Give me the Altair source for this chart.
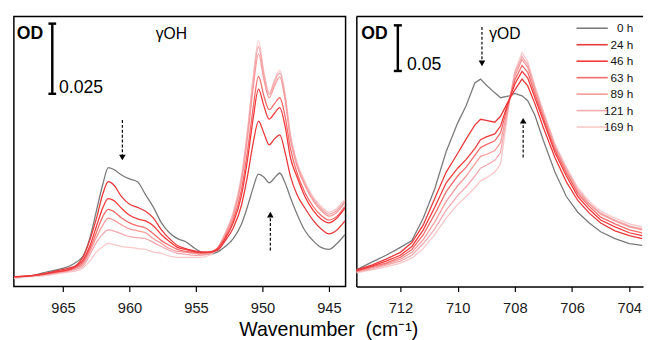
import altair as alt
import pandas as pd

FONT = "Liberation Sans"

series = ["0 h", "24 h", "46 h", "63 h", "89 h", "121 h", "169 h"]
colors = ["#7a7a7a", "#e8383a", "#f5393b", "#f56b6b", "#f79a9a", "#f2a9b0", "#fac8c8"]

# ---------- gamma OH region (mOD, arbitrary baseline) ----------
wn_oh = [968.7, 967.5, 966.5, 965.5, 964.5, 964.0, 963.5, 963.0, 962.5, 962.0,
         961.6, 961.2, 960.6, 960.0, 959.4, 958.8, 958.2, 957.6, 957.0, 956.4,
         955.8, 955.2, 954.6, 954.0, 953.4, 952.8, 952.2, 951.6, 951.1, 950.7,
         950.3, 949.9, 949.5, 949.1, 948.7, 948.3, 947.9, 947.4, 946.8, 946.2,
         945.6, 945.0, 944.4, 943.8]
oh_0h = [3.5, 3.8, 4.9, 5.9, 7.3, 8.7, 10.8, 17.0, 26.7, 36.5,
         42.2, 41.6, 39.6, 38.2, 37.2, 32.6, 28.1, 22.6, 19.1, 17.0,
         16.0, 13.9, 12.2, 11.5, 12.2, 14.2, 17.0, 21.9, 28.8, 35.1,
         39.9, 38.9, 36.8, 38.5, 40.3, 36.8, 31.6, 25.7, 19.8, 16.3,
         13.9, 13.2, 15.3, 18.4]
oh_24h = [3.5, 3.8, 4.5, 5.6, 6.6, 7.6, 10.4, 16.3, 24.0, 33.0,
          37.2, 36.1, 31.9, 29.2, 28.1, 26.7, 24.3, 20.1, 17.0, 14.6,
          13.5, 12.8, 12.2, 12.2, 12.8, 16.3, 20.8, 28.5, 39.9, 51.0,
          58.7, 54.5, 50.3, 52.4, 53.8, 47.6, 39.2, 32.6, 27.8, 23.6,
          20.5, 18.7, 20.1, 23.3]
oh_46h = [3.5, 3.8, 4.5, 5.2, 6.2, 7.3, 9.4, 14.2, 21.2, 28.1,
          31.2, 30.6, 27.8, 25.3, 24.0, 23.3, 21.5, 18.4, 16.0, 13.9,
          13.2, 12.5, 12.2, 12.2, 13.2, 17.0, 22.6, 31.9, 45.8, 59.7,
          70.1, 64.2, 59.4, 61.5, 63.5, 56.9, 45.8, 38.9, 31.9, 27.1,
          24.0, 22.6, 24.3, 27.8]
oh_63h = [3.5, 3.8, 4.2, 5.2, 5.9, 6.9, 8.7, 13.2, 19.1, 25.0,
          27.4, 26.7, 24.3, 22.6, 21.5, 20.8, 18.7, 16.3, 14.6, 13.2,
          12.5, 12.2, 11.8, 12.2, 13.5, 17.7, 23.6, 34.0, 49.0, 63.5,
          74.6, 67.7, 62.8, 64.9, 67.0, 60.4, 49.0, 40.3, 33.3, 28.5,
          25.3, 23.6, 25.0, 28.5]
oh_89h = [3.5, 3.8, 4.2, 4.9, 5.9, 6.6, 8.0, 12.2, 17.4, 21.9,
          24.3, 23.6, 21.9, 20.5, 19.8, 19.1, 17.0, 15.3, 13.5, 12.5,
          12.2, 11.8, 11.5, 11.8, 13.5, 18.4, 25.0, 36.8, 53.8, 70.5,
          82.6, 73.6, 67.0, 71.2, 74.3, 66.3, 52.4, 42.7, 35.8, 30.6,
          27.1, 25.0, 26.4, 29.9]
oh_121h = [3.1, 3.8, 4.2, 4.9, 5.6, 6.2, 7.3, 11.1, 15.6, 18.7,
           20.1, 19.8, 18.7, 17.7, 17.4, 17.0, 15.6, 14.2, 12.8, 11.8,
           11.5, 11.1, 11.1, 11.5, 13.5, 18.7, 25.7, 37.8, 55.6, 72.9,
           85.1, 75.3, 68.1, 72.6, 75.7, 67.4, 53.1, 43.4, 36.5, 31.2,
           27.8, 25.7, 27.1, 30.2]
oh_169h = [2.8, 3.5, 3.8, 4.5, 5.2, 5.6, 6.6, 9.0, 12.2, 14.2,
           15.3, 14.9, 14.2, 13.9, 13.5, 13.2, 12.2, 11.8, 10.8, 10.4,
           10.4, 10.4, 10.4, 11.1, 13.5, 19.1, 26.4, 38.9, 56.9, 74.6,
           87.1, 76.4, 68.7, 73.3, 76.7, 68.4, 54.2, 44.1, 37.2, 31.9,
           28.5, 26.4, 27.8, 30.9]

# ---------- gamma OD region (mOD) ----------
wn_od = [713.54, 713.0, 712.5, 712.0, 711.6, 711.2, 710.8, 710.4, 710.0, 709.7,
         709.4, 709.2, 709.0, 708.7, 708.5, 708.2, 708.0, 707.75, 707.55, 707.3,
         707.0, 706.6, 706.2, 705.8, 705.4, 705.0, 704.5, 704.0, 703.55]
od_0h = [18.1, 26.6, 34.0, 42.6, 50.0, 74.5, 106.4, 146.8, 177.7, 196.8,
         221.3, 225.5, 219.1, 210.6, 205.3, 207.4, 210.1, 207.4, 202.1, 186.2,
         158.5, 124.5, 97.9, 80.8, 69.1, 59.6, 52.1, 46.8, 44.7]
od_24h = [18.1, 23.4, 29.8, 37.2, 47.9, 67.0, 95.7, 124.5, 144.7, 160.6,
          175.5, 181.9, 180.8, 178.7, 185.1, 203.2, 213.8, 225.5, 218.1, 198.9,
          172.3, 140.4, 113.8, 93.6, 79.8, 69.1, 60.6, 55.3, 52.1]
od_46h = [17.0, 22.3, 27.7, 34.0, 43.6, 61.7, 86.2, 112.8, 128.7, 138.3,
          150.0, 159.6, 162.8, 166.0, 174.5, 203.2, 220.2, 234.0, 226.6, 205.3,
          179.8, 145.7, 120.2, 97.9, 84.0, 72.3, 64.9, 58.5, 55.3]
od_63h = [17.0, 21.3, 25.5, 31.9, 40.4, 56.4, 78.7, 103.2, 120.2, 129.8,
          142.6, 151.1, 154.3, 158.5, 167.0, 202.1, 224.5, 240.4, 233.0, 209.6,
          183.0, 148.9, 123.4, 101.1, 87.2, 75.5, 68.1, 61.7, 58.5]
od_89h = [16.0, 20.2, 24.5, 29.8, 37.2, 51.1, 70.2, 92.6, 109.6, 120.2,
          133.0, 141.5, 143.6, 147.9, 156.4, 201.1, 228.7, 246.8, 238.3, 213.8,
          186.2, 151.1, 125.5, 103.2, 89.4, 78.7, 71.3, 64.9, 61.7]
od_121h = [16.0, 19.1, 23.4, 27.7, 34.0, 46.8, 62.8, 83.0, 98.9, 108.5,
           120.2, 128.7, 131.9, 137.2, 145.7, 200.0, 231.9, 250.0, 241.5, 216.0,
           188.3, 153.2, 127.7, 105.3, 90.4, 79.8, 72.3, 66.0, 62.8]
od_169h = [14.9, 18.1, 21.3, 25.5, 30.9, 41.5, 56.4, 74.5, 89.4, 97.9,
           107.4, 114.9, 118.1, 124.5, 133.0, 198.9, 234.0, 254.2, 244.7, 218.1,
           190.4, 155.3, 129.8, 107.4, 92.6, 81.9, 74.5, 68.1, 64.9]

ticks_oh = [967.5, 965, 962.5, 960, 957.5, 955, 952.5, 950, 947.5, 945]
ticks_od = [713, 712, 711, 710, 709, 708, 707, 706, 705, 704]

# annotations (data units)
bar_oh = {"x": 965.81, "y": 68.4, "y2": 93.3, "cap_half": 0.29}
bar_od = {"x": 712.09, "y": 234.4, "y2": 284.0, "cap_half": 0.14}
text_oh = [
    {"x": 968.48, "y": 89.6, "t": "OD", "w": "bold", "s": 18, "a": "left"},
    {"x": 965.30, "y": 70.3, "t": "0.025", "w": "normal", "s": 18, "a": "left"},
    {"x": 956.86, "y": 89.7, "t": "\u03b3OH", "w": "normal", "s": 16, "a": "center"},
]
text_od = [
    {"x": 713.37, "y": 274.5, "t": "OD", "w": "bold", "s": 18, "a": "left"},
    {"x": 711.77, "y": 240.4, "t": "0.05", "w": "normal", "s": 18, "a": "left"},
    {"x": 708.35, "y": 274.5, "t": "\u03b3OD", "w": "normal", "s": 16, "a": "center"},
]
arrows_oh = [
    {"x": 960.54, "y": 59.1, "y2": 45.8, "dir": "triangle-down"},
    {"x": 949.41, "y": 12.8, "y2": 25.5, "dir": "triangle-up"},
]
arrows_od = [
    {"x": 709.15, "y": 282.2, "y2": 242.6, "dir": "triangle-down"},
    {"x": 707.71, "y": 140.4, "y2": 180.3, "dir": "triangle-up"},
]

W_L, W_R, H = 339, 293, 276
Y_OH = [0, 95.83]
Y_OD = [0, 293.6]

draw_order = ["0 h", "169 h", "121 h", "89 h", "63 h", "46 h", "24 h"]


def long_table(wn, curves):
    lookup = dict(zip(series, curves))
    rows = []
    for name in draw_order:
        for w, v in zip(wn, lookup[name]):
            rows.append({"wn": w, "od": v, "series": name})
    return pd.DataFrame(rows)


df_oh = long_table(wn_oh, [oh_0h, oh_24h, oh_46h, oh_63h, oh_89h, oh_121h, oh_169h])
df_od = long_table(wn_od, [od_0h, od_24h, od_46h, od_63h, od_89h, od_121h, od_169h])

color_scale = alt.Scale(domain=series, range=colors)


def axis_x(values, expr, domain):
    kw = dict(values=values, labelExpr=expr, title=None, grid=False,
              tickSize=5, tickColor="black", tickWidth=1.2,
              labelFont=FONT, labelFontSize=15, labelColor="#1a1a1a",
              labelPadding=10, labelFlush=False, labelOverlap=False)
    if domain:
        kw.update(domain=True, domainColor="black", domainWidth=1.5)
    else:
        kw.update(domain=False)
    return alt.Axis(**kw)


def panel(df, xdom, ydom, values, expr, bar, texts, arrows, interp, is_right):
    xs = alt.Scale(domain=xdom, reverse=True, nice=False, zero=False)
    ys = alt.Scale(domain=ydom, nice=False, zero=False)
    if is_right:
        yaxis = alt.Axis(domain=True, domainColor="black", domainWidth=1.5,
                         ticks=False, labels=False, title=None, grid=False)
    else:
        yaxis = None
    lines = alt.Chart(df).mark_line(strokeWidth=1.3, interpolate=interp, clip=True).encode(
        x=alt.X("wn:Q", scale=xs, axis=axis_x(values, expr, is_right)),
        y=alt.Y("od:Q", scale=ys, axis=yaxis),
        color=alt.Color("series:N", scale=color_scale, legend=None),
        detail="series:N",
    )
    bdf = pd.DataFrame([bar])
    bdf["xa"] = bdf["x"] - bdf["cap_half"]
    bdf["xb"] = bdf["x"] + bdf["cap_half"]
    vbar = alt.Chart(bdf).mark_rule(color="black", strokeWidth=2.5).encode(
        x=alt.X("x:Q", scale=xs), y=alt.Y("y:Q", scale=ys, axis=None), y2="y2:Q")
    cap1 = alt.Chart(bdf).mark_rule(color="black", strokeWidth=2.5).encode(
        x=alt.X("xa:Q", scale=xs), x2="xb:Q", y=alt.Y("y:Q", scale=ys, axis=None))
    cap2 = alt.Chart(bdf).mark_rule(color="black", strokeWidth=2.5).encode(
        x=alt.X("xa:Q", scale=xs), x2="xb:Q", y=alt.Y("y2:Q", scale=ys, axis=None))
    layers = [lines, vbar, cap1, cap2]
    for t in texts:
        layers.append(
            alt.Chart(pd.DataFrame([t])).mark_text(
                font=FONT, fontSize=t["s"], fontWeight=t["w"], align=t["a"],
                baseline="middle", color="black").encode(
                x=alt.X("x:Q", scale=xs), y=alt.Y("y:Q", scale=ys, axis=None),
                text="t:N"))
    adf = pd.DataFrame(arrows)
    layers.append(alt.Chart(adf).mark_rule(color="black", strokeWidth=1.2,
                                           strokeDash=[3, 2]).encode(
        x=alt.X("x:Q", scale=xs), y=alt.Y("y:Q", scale=ys, axis=None), y2="y2:Q"))
    for shp in ["triangle-down", "triangle-up"]:
        layers.append(alt.Chart(adf[adf["dir"] == shp]).mark_point(
            shape=shp, filled=True, color="black", size=45, opacity=1).encode(
            x=alt.X("x:Q", scale=xs), y=alt.Y("y2:Q", scale=ys, axis=None)))
    if is_right:
        ldf = pd.DataFrame({"series": series})
        lscale = alt.Scale(type="point", domain=series, range=[12, 113], padding=0)
        layers.append(alt.Chart(ldf).mark_rule(strokeWidth=1.6).encode(
            x=alt.value(225), x2=alt.value(257),
            y=alt.Y("series:N", scale=lscale, axis=None),
            color=alt.Color("series:N", scale=color_scale, legend=None)))
        layers.append(alt.Chart(ldf).mark_text(
            font=FONT, fontSize=12, align="right", baseline="middle", color="#111").encode(
            x=alt.value(283), y=alt.Y("series:N", scale=lscale, axis=None),
            text="series:N"))
        layers.append(alt.Chart(pd.DataFrame({"k": [0]})).mark_rule(
            color="black", strokeWidth=1.5).encode(
            x=alt.value(0), x2=alt.value(W_R), y=alt.value(0)))
        ch = alt.layer(*layers).resolve_scale(y="independent").properties(
            width=W_R, height=H)
    else:
        ch = alt.layer(*layers).properties(
            width=W_L, height=H,
            view=alt.ViewBackground(stroke="black", strokeWidth=1.5))
    return ch


left = panel(df_oh, [943.75, 968.7], Y_OH, ticks_oh,
             "datum.value % 5 == 0 ? datum.label : ''",
             bar_oh, text_oh, arrows_oh, "monotone", False)
right = panel(df_od, [703.52, 713.54], Y_OD, ticks_od,
              "datum.value % 2 == 0 ? datum.label : ''",
              bar_od, text_od, arrows_od, "linear", True)

chart = alt.hconcat(left, right, spacing=8).properties(
    title=alt.TitleParams(text="Wavenumber \u00a0(cm\u207b\u00b9)", orient="bottom",
                          anchor="middle", fontSize=20, font=FONT,
                          fontWeight="normal", color="black", offset=4),
    padding={"left": 5, "top": 3, "right": 0, "bottom": 0},
).configure_view(stroke="transparent")

chart.save("out.html", embed_options={"renderer": "svg", "actions": False})
